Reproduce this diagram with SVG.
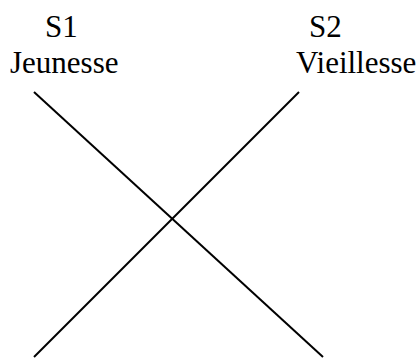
<svg xmlns="http://www.w3.org/2000/svg" width="417" height="360" viewBox="0 0 417 360">
<style>
text{font-family:"Liberation Serif","Times New Roman",serif;font-size:31px;fill:#000}
.ln{stroke:#000;stroke-width:2;fill:none}
</style>
<rect width="417" height="360" fill="#fff"/>
<g id="s1">
<text x="45" y="37">S1</text>
<text x="10" y="73">Jeunesse</text>
</g>
<g id="s2">
<text x="309" y="37">S2</text>
<text x="296" y="73">Vieillesse</text>
</g>
<g id="connectors">
<line class="ln" x1="34" y1="92" x2="323" y2="357"/>
<line class="ln" x1="299" y1="92" x2="34" y2="357"/>
</g>
</svg>
